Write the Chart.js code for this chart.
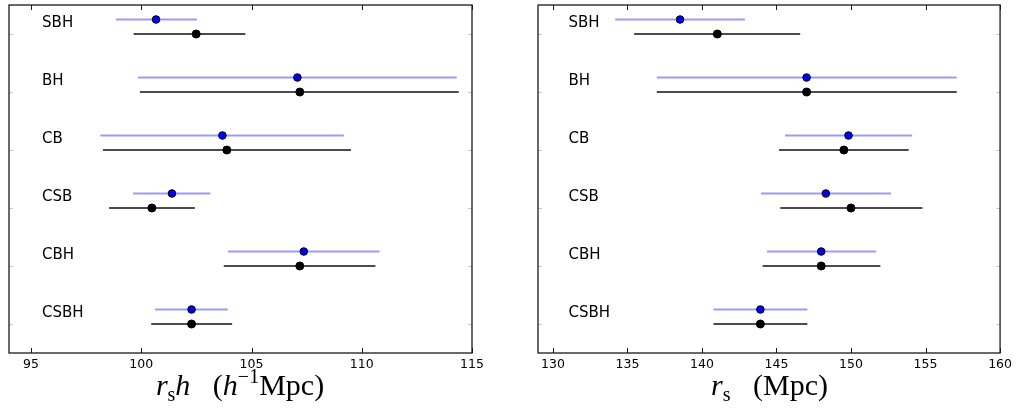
<!DOCTYPE html>
<html>
<head>
<meta charset="utf-8">
<script src="https://cdn.jsdelivr.net/npm/chart.js@4/dist/chart.umd.min.js"></script>
<style>
    body { margin: 0; background: #fff; }
    #wrap { position: relative; width: 1016px; height: 409px; overflow: hidden; }
    .panel { position: absolute; top: 0; width: 508px; height: 409px; }
    .xtitle {
        position: absolute; top: 370px; text-align: center;
        font-family: "Liberation Serif", "DejaVu Serif", serif; font-size: 30px; line-height: 30px; color: #000;
        white-space: pre;
    }
    .xtitle i { font-style: italic; }
    .xtitle sub { font-size: 20px; vertical-align: -6px; line-height: 0; }
    .xtitle sup { font-size: 20px; vertical-align: 12px; line-height: 0; }
</style>
</head>
<body>
<div id="wrap">
    <div class="panel" style="left:0"><canvas id="rshChart" width="508" height="409"></canvas></div>
    <div class="panel" style="left:508px"><canvas id="rsChart" width="508" height="409"></canvas></div>
    <div class="xtitle" style="left:0; width:480px"><i>r</i><sub>s</sub><i>h</i>   (<i>h</i><sup>−1</sup>Mpc)</div>
    <div class="xtitle" style="left:508px; width:523px"><i>r</i><sub>s</sub>   (Mpc)</div>
</div>
<script>
// 행 이름 (위에서 아래로)
const categories = ['SBH', 'BH', 'CB', 'CSB', 'CBH', 'CSBH'];

// 왼쪽: r_s h
const rshTicks = [95, 100, 105, 110, 115];
const rshBlueCenter = [100.67, 107.08, 103.68, 101.39, 107.37, 102.28];
const rshBlueLow = [98.85, 99.85, 98.14, 99.63, 103.94, 100.63];
const rshBlueHigh = [102.52, 114.31, 109.19, 103.14, 110.81, 103.92];
const rshBlackCenter = [102.49, 107.19, 103.88, 100.48, 107.19, 102.28];
const rshBlackLow = [99.65, 99.94, 98.26, 98.54, 103.74, 100.45];
const rshBlackHigh = [104.72, 114.40, 109.51, 102.43, 110.62, 104.12];

// 오른쪽: r_s
const rsTicks = [130, 135, 140, 145, 150, 155, 160];
const rsBlueCenter = [138.53, 147.02, 149.83, 148.31, 148.00, 143.92];
const rsBlueLow = [134.18, 136.97, 145.57, 143.96, 144.36, 140.77];
const rsBlueHigh = [142.88, 157.09, 154.10, 152.69, 151.69, 147.07];
const rsBlackCenter = [141.03, 147.02, 149.52, 150.00, 148.00, 143.92];
const rsBlackLow = [135.45, 136.97, 145.17, 145.25, 144.07, 140.77];
const rsBlackHigh = [146.59, 157.09, 153.87, 154.79, 151.97, 147.07];

const COLORS = {
    blueBar: 'rgba(0, 0, 255, 0.4)',
    blackBar: 'rgba(0, 0, 0, 0.7)',
    blueDot: '#0000ff',
    blackDot: '#000000',
    frame: '#1a1a1a'
};

const BLUE_OFFSET = 0.25;   // 파란 막대는 검은 막대 위쪽
const LABEL_OFFSET = 0.18;

// 행 번호 -> y 값 (맨 위 행이 5)
function rowY(i) {
    return categories.length - 1 - i;
}

// 오차 막대 + 점 데이터셋 만들기
function buildDatasets(center, low, high, barColor, dotColor, dy, radius) {
    const sets = [];
    categories.forEach((name, i) => {
        sets.push({
            type: 'line',
            data: [{ x: low[i], y: rowY(i) + dy }, { x: high[i], y: rowY(i) + dy }],
            borderColor: barColor,
            borderWidth: 2,
            pointRadius: 0,
            fill: false,
            order: 3
        });
    });
    sets.push({
        type: 'scatter',
        data: center.map((v, i) => ({ x: v, y: rowY(i) + dy })),
        backgroundColor: dotColor,
        borderColor: '#000',
        borderWidth: 1,
        pointRadius: radius,
        order: 0
    });
    return sets;
}

// 테두리, 안쪽 눈금, 행 이름
const framePlugin = {
    id: 'frame',
    afterDraw(chart, args, opts) {
        const ctx = chart.ctx;
        const a = chart.chartArea;
        const xs = chart.scales.x;
        const ys = chart.scales.y;
        ctx.save();

        // x 눈금 (위/아래 안쪽)
        ctx.strokeStyle = COLORS.frame;
        ctx.lineWidth = 1;
        opts.ticks.forEach(v => {
            const px = Math.round(xs.getPixelForValue(v)) + 0.5;
            ctx.beginPath();
            ctx.moveTo(px, a.top); ctx.lineTo(px, a.top + 5);
            ctx.moveTo(px, a.bottom); ctx.lineTo(px, a.bottom - 5);
            ctx.stroke();
        });

        // y 눈금 (연한 회색)
        ctx.strokeStyle = '#c8c8c8';
        categories.forEach((name, i) => {
            const py = Math.round(ys.getPixelForValue(rowY(i))) + 0.5;
            ctx.beginPath();
            ctx.moveTo(a.left, py); ctx.lineTo(a.left + 4, py);
            ctx.moveTo(a.right, py); ctx.lineTo(a.right - 4, py);
            ctx.stroke();
        });

        // 테두리
        ctx.strokeStyle = COLORS.frame;
        ctx.lineWidth = 1.3;
        ctx.strokeRect(a.left, a.top, a.right - a.left, a.bottom - a.top);

        // 행 이름
        ctx.fillStyle = '#000';
        ctx.font = '15px "DejaVu Sans"';
        ctx.textBaseline = 'middle';
        ctx.textAlign = 'left';
        categories.forEach((name, i) => {
            ctx.fillText(name, xs.getPixelForValue(opts.labelX), ys.getPixelForValue(rowY(i) + LABEL_OFFSET));
        });
        ctx.restore();
    }
};

function makeChart(id, ticks, min, max, labelX, pad, series) {
    const datasets = [
        ...buildDatasets(series.blackCenter, series.blackLow, series.blackHigh,
            COLORS.blackBar, COLORS.blackDot, 0, 4),
        ...buildDatasets(series.blueCenter, series.blueLow, series.blueHigh,
            COLORS.blueBar, COLORS.blueDot, BLUE_OFFSET, 3.8)
    ];

    return new Chart(document.getElementById(id), {
        type: 'scatter',
        data: { datasets: datasets },
        plugins: [framePlugin],
        options: {
            responsive: false,
            animation: false,
            layout: { padding: pad },
            plugins: {
                legend: { display: false },
                tooltip: { enabled: false },
                frame: { ticks: ticks, labelX: labelX }
            },
            scales: {
                x: {
                    type: 'linear',
                    min: min,
                    max: max,
                    grid: { display: false, drawTicks: false },
                    border: { display: false },
                    afterBuildTicks: (scale) => {
                        scale.ticks = ticks.map(v => ({ value: v }));
                    },
                    afterFit: (scale) => {
                        scale.height = 56;
                    },
                    ticks: {
                        color: '#000',
                        padding: 4,
                        maxRotation: 0,
                        autoSkip: false,
                        font: { family: '"DejaVu Sans"', size: 12.5 }
                    }
                },
                y: {
                    type: 'linear',
                    display: false,
                    min: -0.5,
                    max: 5.5
                }
            }
        }
    });
}

makeChart('rshChart', rshTicks, 94, 115, 95.5, { left: 9, right: 36, top: 5, bottom: 0 }, {
    blueCenter: rshBlueCenter, blueLow: rshBlueLow, blueHigh: rshBlueHigh,
    blackCenter: rshBlackCenter, blackLow: rshBlackLow, blackHigh: rshBlackHigh
});

makeChart('rsChart', rsTicks, 129, 160, 131.05, { left: 30, right: 15, top: 5, bottom: 0 }, {
    blueCenter: rsBlueCenter, blueLow: rsBlueLow, blueHigh: rsBlueHigh,
    blackCenter: rsBlackCenter, blackLow: rsBlackLow, blackHigh: rsBlackHigh
});
</script>
</body>
</html>
